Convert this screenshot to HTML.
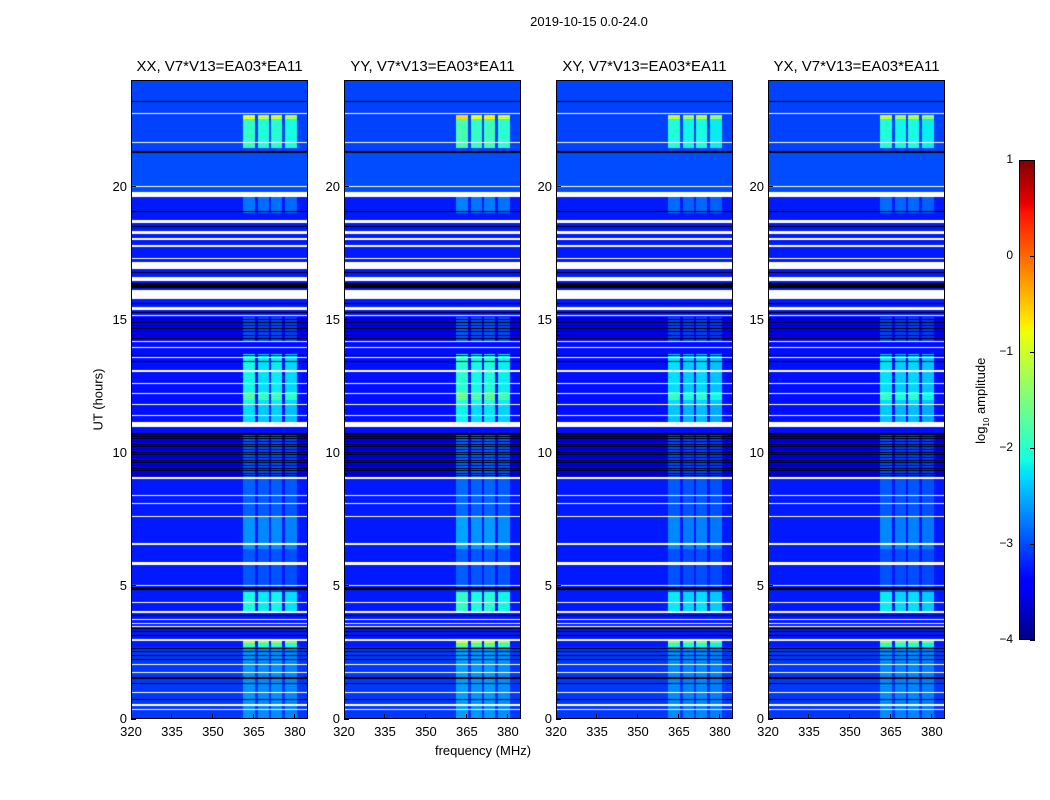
<!DOCTYPE html>
<html><head><meta charset="utf-8">
<style>
body{margin:0;background:#fff;width:1050px;height:800px;overflow:hidden;position:relative;font-family:"Liberation Sans",sans-serif;color:#000}
.t{position:absolute;white-space:nowrap}
canvas{position:absolute}
.ax{position:absolute;border:1px solid #000;box-sizing:border-box}
</style></head><body>
<div class="t" style="left:489px;top:14px;width:200px;text-align:center;font-size:13px">2019-10-15 0.0-24.0</div>
<div class="t" style="left:48px;top:392px;width:100px;text-align:center;font-size:13px;transform:rotate(-90deg)">UT (hours)</div>
<div class="t" style="left:383px;top:743px;width:200px;text-align:center;font-size:13px">frequency (MHz)</div>
<div class="t" style="left:922px;top:392px;width:120px;text-align:center;font-size:13px;transform:rotate(-90deg)">log<sub style="font-size:8px">10</sub> amplitude</div>
<div id="root"></div>
<script>
// ---- data ----
const panelTitles = ["XX, V7*V13=EA03*EA11","YY, V7*V13=EA03*EA11","XY, V7*V13=EA03*EA11","YX, V7*V13=EA03*EA11"];
const panelGain = [1.0, 1.12, 0.9, 0.9];
const xTicks = [320,335,350,365,380];
const yTicks = [0,5,10,15,20];
const cbTicks = [1,0,-1,-2,-3,-4];
// RFI frequency channels (MHz)
const chanStart = [361, 366.5, 371.3, 376.3];
const chanEnd   = [365.4, 370.5, 375.3, 380.7];
const chanWeight= [1.0, 0.9, 0.95, 0.85];
// background level segments (hours, log10 amp)
const baseStart = [0, 2.7, 9.05, 14.2, 15.1, 19.8, 21.3];
const baseEnd   = [2.7, 9.05, 10.74, 15.1, 19.8, 21.3, 24];
const baseLevel = [-3.1, -3.25, -3.5, -3.45, -3.25, -3.0, -3.05];
// RFI band segments: boost added over channels
const bandStart = [0, 2.7, 2.85, 3.98, 4.78, 6.4, 7.6, 9.05, 11.0, 11.8, 12.0, 14.2, 16.0, 19.0, 21.45, 22.55];
const bandEnd   = [2.7, 2.85, 2.93, 4.78, 6.4, 7.6, 9.05, 10.74, 11.8, 13.7, 12.3, 15.1, 16.1, 19.6, 22.55, 22.7];
const bandBoost = [0.45, 1.4, 2.1, 1.15, 0.3, 0.6, 0.35, 0.55, 1.0, 1.15, 1.5, 0.45, 1.3, 0.45, 1.1, 2.2];
// flagged (white) intervals
const whiteStart = [0.32,0.5,0.98,1.72,2.03,2.93,3.46,3.58,3.70,4.0,4.35,4.98,5.79,6.55,7.6,8.06,8.38,9.03,10.98,11.37,11.78,12.19,12.57,13.03,13.55,13.93,14.16,15.13,15.36,15.77,16.44,16.92,17.29,17.73,18.0,18.2,18.64,19.6,19.98,21.63,21.94,22.72];
const whiteEnd   = [0.36,0.55,1.03,1.77,2.08,3.0,3.5,3.62,3.74,4.05,4.39,5.02,5.88,6.6,7.64,8.1,8.42,9.08,11.17,11.41,11.82,12.23,12.61,13.1,13.59,13.97,14.2,15.18,15.46,16.1,16.6,17.17,17.33,17.8,18.07,18.33,18.76,19.8,20.03,21.67,21.94,22.76];
// black (zero) rows
const blackStart = [0.7,1.3,1.52,2.2,2.35,2.5,2.62,3.12,3.25,3.38,3.86,4.84,4.9,9.12,9.2,9.3,9.4,9.5,9.6,9.7,9.8,9.9,10.0,10.1,10.2,10.3,10.4,10.5,10.6,10.68,13.42,13.62,14.28,14.4,14.52,14.64,14.76,14.88,15.0,15.25,15.6,16.18,16.75,18.49,19.05,21.27,23.18];
const blackEnd   = [0.74,1.34,1.56,2.24,2.39,2.54,2.66,3.16,3.29,3.42,3.9,4.88,4.94,9.16,9.24,9.34,9.44,9.54,9.64,9.74,9.84,9.94,10.04,10.14,10.24,10.34,10.44,10.54,10.64,10.74,13.46,13.66,14.32,14.44,14.56,14.68,14.8,14.92,15.04,15.29,15.64,16.37,16.79,18.53,19.09,21.35,23.22];

// ---- layout ----
const lefts=[131,344,556,768], TOP=80, W=177, H=639;
const F0=320, F1=384.8, T0=0, T1=24;
const xs=(f,l)=>l+(f-F0)/(F1-F0)*W;
const ys=h=>TOP+H-(h-T0)/(T1-T0)*H;
function jet(t){t=Math.max(0,Math.min(1,t));
 const seg=(pts)=>{for(let i=1;i<pts.length;i++){if(t<=pts[i][0]){const a=pts[i-1],b=pts[i];return a[1]+(b[1]-a[1])*(t-a[0])/(b[0]-a[0]);}}return pts[pts.length-1][1];};
 return [seg([[0,0],[0.35,0],[0.66,1],[0.89,1],[1,0.5]]),seg([[0,0],[0.125,0],[0.375,1],[0.64,1],[0.91,0],[1,0]]),seg([[0,0.5],[0.11,1],[0.34,1],[0.65,0],[1,0]])].map(v=>Math.round(v*255));}
const norm=v=>(v+4)/5;
function inAny(h,s,e){for(let i=0;i<s.length;i++)if(h>=s[i]&&h<e[i])return true;return false;}
function valueAt(h,f,g){
 let v=-3.3;for(let i=0;i<baseStart.length;i++)if(h>=baseStart[i]&&h<baseEnd[i])v=baseLevel[i];
 let cw=0;for(let i=0;i<chanStart.length;i++)if(f>=chanStart[i]&&f<chanEnd[i])cw=chanWeight[i];
 if(cw>0){let b=0;for(let i=0;i<bandStart.length;i++)if(h>=bandStart[i]&&h<bandEnd[i])b=Math.max(b,bandBoost[i]);v+=b*cw*g;}
 return v;}
const root=document.getElementById('root');
function txt(name,s,x,y,style){const d=document.createElement('div');d.className='t';d.textContent=s;
 
 
 d.style.cssText=`left:${x}px;top:${y}px;`+style;root.appendChild(d);return d;}
lefts.forEach((L,p)=>{
 const c=document.createElement('canvas');c.width=W;c.height=H;c.style.left=L+'px';c.style.top=TOP+'px';
 
 
 root.appendChild(c);const ctx=c.getContext('2d');const im=ctx.createImageData(W,H);
 for(let y=0;y<H;y++){const h=T1-(y+0.5)/H*(T1-T0);
  const white=inAny(h,whiteStart,whiteEnd), black=inAny(h,blackStart,blackEnd);
  for(let x=0;x<W;x++){const f=F0+(x+0.5)/W*(F1-F0);let col;
   if(white)col=[255,255,255];else if(black)col=[0,0,0];else col=jet(norm(valueAt(h,f,panelGain[p])));
   const k=(y*W+x)*4;im.data[k]=col[0];im.data[k+1]=col[1];im.data[k+2]=col[2];im.data[k+3]=255;}}
 ctx.putImageData(im,0,0);
 const fr=document.createElement('div');fr.className='ax';fr.style.cssText=`left:${L}px;top:${TOP}px;width:${W}px;height:${H}px`;
 
 
 root.appendChild(fr);
 txt('panel-title',panelTitles[p],L-20,58,`width:${W+40}px;text-align:center;font-size:15px`);
 xTicks.forEach(f=>{const x=xs(f,L);
  const tk=document.createElement('div');tk.style.cssText=`position:absolute;left:${x-0.5}px;top:${TOP+H-5}px;width:1px;height:5px;background:#000`;
  
  
  root.appendChild(tk);
  txt('x-tick-label',String(f),x-20,724,'width:40px;text-align:center;font-size:13px');});
 yTicks.forEach(h=>{const y=ys(h);
  const tk=document.createElement('div');tk.style.cssText=`position:absolute;left:${L}px;top:${y-0.5}px;width:5px;height:1px;background:#000`;
  
  
  root.appendChild(tk);
  txt('y-tick-label',String(h),L-44,y-8,'width:40px;text-align:right;font-size:13px');});
});
// colorbar
const CBX=1019,CBY=160,CBW=16,CBH=480;
const cb=document.createElement('canvas');cb.width=CBW;cb.height=CBH;cb.style.left=CBX+'px';cb.style.top=CBY+'px';


root.appendChild(cb);const cctx=cb.getContext('2d');
for(let y=0;y<CBH;y++){const c=jet(1-(y+0.5)/CBH);cctx.fillStyle=`rgb(${c})`;cctx.fillRect(0,y,CBW,1);}
const cbf=document.createElement('div');cbf.className='ax';cbf.style.cssText=`left:${CBX}px;top:${CBY}px;width:${CBW}px;height:${CBH}px`;


root.appendChild(cbf);
cbTicks.forEach(v=>{const y=CBY+CBH-norm(v)*CBH;
 const tk=document.createElement('div');tk.style.cssText=`position:absolute;left:${CBX+CBW-5}px;top:${y-0.5}px;width:5px;height:1px;background:#000`;
 
 
 root.appendChild(tk);
 txt('colorbar-tick-label',v<0?'\u2212'+(-v):String(v),CBX-46,y-8,'width:40px;text-align:right;font-size:12px');});
</script>
</body></html>
